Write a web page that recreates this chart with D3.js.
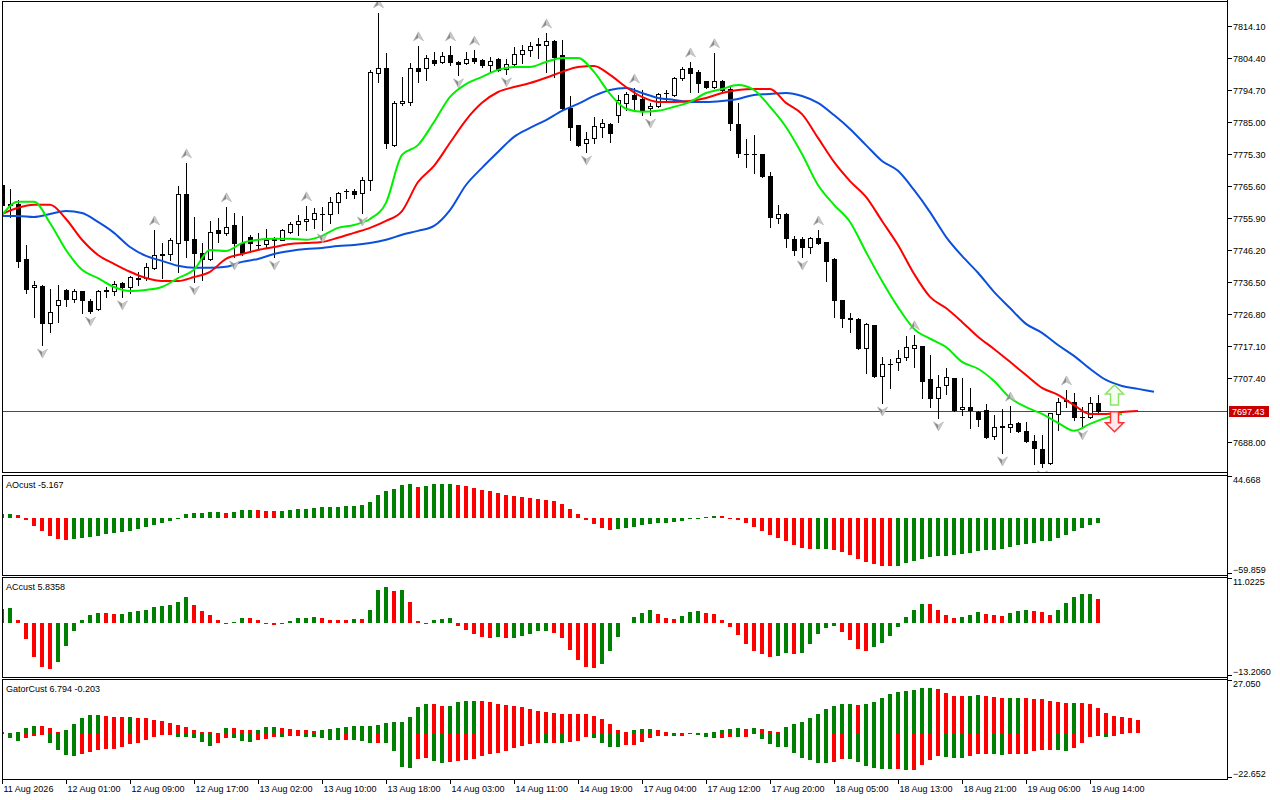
<!DOCTYPE html>
<html>
<head>
<meta charset="utf-8">
<script src="https://cdn.jsdelivr.net/npm/d3@7"></script>
<style>
  body { margin: 0; background: #fff; }
  svg { display: block; }
  text { font-family: "Liberation Sans", Arial, sans-serif; font-size: 9px; fill: #000; }
</style>
</head>
<body>
<svg id="chart" width="1280" height="800"></svg>
<script>
// ---- data (H1 bars, 11 Aug 17:00 .. 19 Aug 17:00) ----
const timeLabels = ["11 Aug 2026", "12 Aug 01:00", "12 Aug 09:00", "12 Aug 17:00", "13 Aug 02:00", "13 Aug 10:00",
  "13 Aug 18:00", "14 Aug 03:00", "14 Aug 11:00", "14 Aug 19:00", "17 Aug 04:00", "17 Aug 12:00",
  "17 Aug 20:00", "18 Aug 05:00", "18 Aug 13:00", "18 Aug 21:00", "19 Aug 06:00", "19 Aug 14:00"];
const labelEvery = 8;

const opens = [7765.9, 7760.2, 7760.2, 7743.5, 7735.0, 7735.3, 7724.1, 7729.6, 7734.1, 7731.4,
  7733.8, 7730.8, 7728.3, 7733.8, 7733.8, 7736.2, 7735.0, 7737.4, 7737.7, 7740.8,
  7744.7, 7745.0, 7748.3, 7763.2, 7749.6, 7745.3, 7743.5, 7752.3, 7751.4, 7753.8,
  7748.3, 7750.2, 7747.6, 7748.0, 7749.2, 7749.3, 7751.7, 7754.1, 7755.0, 7755.6,
  7757.0, 7757.1, 7760.8, 7764.0, 7764.1, 7763.5, 7767.4, 7799.9, 7801.4, 7778.0,
  7790.8, 7791.1, 7801.4, 7801.4, 7803.8, 7803.2, 7805.3, 7803.2, 7802.9, 7804.4,
  7803.8, 7802.3, 7804.1, 7801.1, 7802.6, 7805.6, 7806.8, 7808.7, 7808.4, 7809.6,
  7805.3, 7789.3, 7784.1, 7778.7, 7780.2, 7783.5, 7784.4, 7787.1, 7790.8, 7793.2,
  7792.0, 7789.3, 7789.9, 7793.7, 7793.2, 7798.4, 7801.4, 7800.2, 7797.4, 7795.6,
  7797.4, 7795.0, 7784.4, 7775.4, 7775.2, 7775.3, 7768.7, 7755.9, 7757.1, 7749.6,
  7749.6, 7747.1, 7749.9, 7748.6, 7743.5, 7731.1, 7725.6, 7725.3, 7716.5, 7723.5,
  7708.0, 7711.6, 7712.3, 7713.8, 7716.5, 7717.1, 7707.1, 7701.4, 7705.3, 7707.4,
  7698.0, 7698.6, 7697.1, 7697.7, 7689.8, 7692.5, 7692.6, 7693.8, 7691.4, 7688.3,
  7685.9, 7681.7, 7696.5, 7700.5, 7700.2, 7695.7, 7695.6, 7699.8];
const highs = [7766.5, 7764.7, 7761.4, 7747.7, 7736.8, 7735.6, 7734.4, 7735.6, 7734.4, 7734.4,
  7733.9, 7731.4, 7734.1, 7735.0, 7736.8, 7736.5, 7738.3, 7739.6, 7742.3, 7752.3,
  7748.3, 7749.9, 7765.6, 7772.6, 7756.2, 7748.3, 7755.0, 7755.9, 7759.3, 7757.4,
  7756.5, 7750.8, 7751.4, 7752.6, 7750.2, 7752.6, 7754.7, 7756.8, 7759.6, 7759.0,
  7759.3, 7762.3, 7763.8, 7764.7, 7764.7, 7768.4, 7800.8, 7818.1, 7805.9, 7791.4,
  7798.7, 7802.9, 7808.1, 7805.3, 7806.2, 7806.2, 7808.1, 7803.5, 7806.2, 7806.8,
  7804.1, 7804.7, 7804.4, 7804.1, 7807.8, 7808.4, 7809.3, 7810.5, 7812.0, 7809.9,
  7809.9, 7792.9, 7784.1, 7782.0, 7786.5, 7785.9, 7784.7, 7793.2, 7794.1, 7795.3,
  7794.7, 7790.8, 7793.8, 7794.7, 7798.6, 7801.7, 7803.2, 7800.8, 7797.4, 7806.0,
  7797.7, 7795.6, 7790.8, 7779.9, 7781.1, 7775.3, 7769.9, 7759.9, 7757.4, 7750.5,
  7750.2, 7750.2, 7752.3, 7748.6, 7743.8, 7731.1, 7727.1, 7725.6, 7724.1, 7723.5,
  7713.8, 7713.2, 7715.9, 7720.2, 7720.5, 7717.1, 7714.4, 7708.3, 7710.5, 7707.4,
  7707.4, 7704.4, 7697.4, 7699.5, 7696.2, 7698.0, 7698.9, 7694.1, 7694.1, 7690.2,
  7690.2, 7696.8, 7701.4, 7703.8, 7702.9, 7698.6, 7701.7, 7702.3];
const lows = [7759.3, 7756.2, 7741.1, 7733.2, 7725.9, 7717.4, 7721.4, 7724.4, 7729.3, 7730.5,
  7727.1, 7727.1, 7728.0, 7732.0, 7732.6, 7732.0, 7733.2, 7735.6, 7737.1, 7740.5,
  7737.7, 7743.2, 7739.6, 7744.1, 7736.5, 7737.1, 7743.2, 7748.6, 7750.8, 7744.1,
  7744.7, 7746.2, 7746.8, 7746.8, 7744.1, 7749.2, 7751.4, 7750.8, 7752.3, 7752.9,
  7752.3, 7754.4, 7757.4, 7762.0, 7762.0, 7757.4, 7764.4, 7797.1, 7777.1, 7777.7,
  7790.2, 7790.2, 7797.1, 7797.8, 7802.3, 7803.0, 7802.3, 7799.3, 7802.6, 7802.9,
  7801.7, 7800.5, 7800.5, 7799.6, 7802.3, 7802.9, 7805.0, 7804.4, 7800.2, 7798.7,
  7788.7, 7779.6, 7777.7, 7775.9, 7778.7, 7780.5, 7779.0, 7785.0, 7788.7, 7788.7,
  7787.1, 7787.1, 7789.6, 7791.1, 7793.0, 7797.8, 7794.1, 7794.1, 7795.3, 7795.3,
  7794.1, 7782.6, 7774.4, 7771.4, 7769.6, 7768.4, 7753.2, 7754.4, 7747.1, 7744.7,
  7744.1, 7745.3, 7748.0, 7736.8, 7725.9, 7722.9, 7721.4, 7716.2, 7708.9, 7707.7,
  7699.8, 7704.4, 7709.9, 7712.9, 7710.8, 7701.4, 7698.6, 7695.3, 7702.6, 7697.4,
  7696.2, 7692.3, 7692.9, 7689.2, 7688.9, 7684.7, 7691.1, 7691.1, 7688.0, 7681.4,
  7680.5, 7681.4, 7691.7, 7698.6, 7694.7, 7692.6, 7695.3, 7697.0];
const closes = [7759.9, 7759.9, 7742.9, 7734.4, 7735.6, 7724.1, 7727.4, 7731.1, 7731.4, 7733.8,
  7731.1, 7727.7, 7733.8, 7734.0, 7735.9, 7735.0, 7738.0, 7737.7, 7741.1, 7744.7,
  7745.0, 7749.3, 7763.2, 7749.3, 7745.3, 7743.5, 7751.7, 7751.4, 7753.2, 7748.3,
  7745.3, 7748.3, 7747.8, 7749.3, 7749.4, 7752.3, 7754.1, 7755.0, 7755.6, 7757.4,
  7757.2, 7760.8, 7763.5, 7764.2, 7763.2, 7767.4, 7800.2, 7801.4, 7778.7, 7790.8,
  7791.4, 7801.4, 7800.5, 7804.4, 7802.9, 7805.0, 7803.2, 7802.6, 7804.1, 7803.5,
  7802.3, 7803.5, 7800.8, 7802.6, 7805.6, 7806.8, 7808.1, 7808.4, 7809.6, 7804.7,
  7789.3, 7783.5, 7778.0, 7779.9, 7783.8, 7784.7, 7781.7, 7791.7, 7793.5, 7792.0,
  7788.7, 7789.9, 7793.5, 7793.9, 7798.4, 7801.1, 7799.9, 7796.8, 7795.6, 7797.4,
  7794.7, 7784.7, 7775.6, 7775.2, 7775.3, 7768.7, 7756.2, 7757.1, 7749.9, 7746.2,
  7747.1, 7749.9, 7748.3, 7742.9, 7731.1, 7725.6, 7725.3, 7716.5, 7723.8, 7708.0,
  7711.7, 7711.5, 7713.5, 7716.8, 7717.4, 7706.5, 7701.4, 7704.7, 7707.7, 7697.7,
  7698.6, 7697.7, 7695.0, 7689.5, 7692.6, 7692.7, 7693.5, 7691.4, 7688.3, 7686.2,
  7681.7, 7696.8, 7700.2, 7700.8, 7695.6, 7695.5, 7699.8, 7697.43];

// Alligator lines, one value every 2 bars (already shifted forward)
const lineStep = 2;
const jawValues = [7756.5, 7756.5, 7756.2, 7757.1, 7758.0, 7757.4, 7754.7, 7751.4, 7747.1, 7744.4,
  7742.9, 7741.4, 7740.8, 7740.8, 7741.1, 7742.6, 7743.5, 7745.0, 7745.9, 7746.5,
  7746.8, 7747.4, 7747.7, 7748.3, 7749.3, 7750.8, 7752.0, 7753.5, 7758.3, 7765.9,
  7771.1, 7775.9, 7780.5, 7783.2, 7785.6, 7788.4, 7790.5, 7792.9, 7794.7, 7795.3,
  7793.8, 7792.3, 7791.7, 7791.1, 7791.1, 7791.4, 7792.0, 7793.2, 7793.5, 7793.8,
  7792.9, 7790.8, 7787.1, 7782.9, 7778.0, 7773.2, 7770.2, 7764.4, 7757.7, 7750.2,
  7744.4, 7739.3, 7733.5, 7728.6, 7723.8, 7721.1, 7717.4, 7714.1, 7710.2, 7706.8,
  7705.0, 7704.1, 7703.2];
const teethValues = [7757.1, 7759.0, 7759.9, 7759.9, 7755.6, 7749.3, 7744.7, 7742.0, 7739.6, 7737.7,
  7736.8, 7736.8, 7738.0, 7739.6, 7743.5, 7745.0, 7746.2, 7747.1, 7748.0, 7748.3,
  7748.6, 7749.9, 7751.4, 7752.9, 7755.0, 7758.0, 7766.8, 7771.7, 7778.7, 7785.6,
  7790.8, 7794.1, 7795.6, 7796.8, 7798.4, 7800.2, 7801.7, 7802.0, 7799.3, 7795.6,
  7792.6, 7791.1, 7791.1, 7791.4, 7792.3, 7793.8, 7794.7, 7795.0, 7795.0, 7790.8,
  7787.4, 7780.2, 7772.9, 7767.1, 7762.3, 7755.0, 7747.7, 7739.0, 7732.0, 7728.6,
  7724.4, 7719.9, 7716.2, 7712.3, 7708.3, 7704.4, 7702.3, 7699.2, 7696.5, 7696.5,
  7697.1, 7697.4];
const lipsValues = [7756.8, 7760.8, 7760.8, 7754.4, 7746.2, 7740.2, 7737.7, 7735.0, 7733.8, 7734.1,
  7735.0, 7737.7, 7740.2, 7746.2, 7745.9, 7748.3, 7749.3, 7749.6, 7749.6, 7749.3,
  7750.5, 7752.9, 7753.8, 7755.6, 7760.5, 7775.0, 7778.0, 7785.0, 7792.6, 7796.5,
  7798.7, 7800.8, 7801.7, 7801.7, 7803.2, 7804.4, 7804.4, 7800.2, 7793.5, 7789.0,
  7788.1, 7788.4, 7789.6, 7791.1, 7793.8, 7795.0, 7796.2, 7794.7, 7789.6, 7783.5,
  7775.3, 7765.9, 7759.9, 7754.7, 7745.6, 7736.8, 7728.9, 7722.3, 7719.3, 7716.8,
  7712.3, 7710.2, 7706.5, 7701.4, 7698.6, 7696.5, 7693.8, 7691.4, 7693.5, 7695.3,
  7696.5];

const upFractalBars = [19, 23, 28, 38, 47, 52, 56, 59, 68, 79, 86, 89, 102, 114, 126, 133];
const downFractalBars = [5, 11, 15, 24, 29, 34, 40, 45, 57, 63, 73, 81, 100, 110, 117, 125, 130, 135];

const signalBar = 139;
const buySignalPrice = 7705.3;
const sellSignalPrice = 7691.1;

const priceTicks = [7814.10, 7804.40, 7794.70, 7785.00, 7775.30, 7765.60, 7755.90, 7746.20,
  7736.50, 7726.80, 7717.10, 7707.40, 7688.00];

const aoValues = [4.2, 4.3, 3.2, -2.1, -8.5, -13.9, -19.2, -22.4, -23.5, -22.4,
  -21.3, -20.3, -19.2, -17.1, -16.0, -14.9, -13.9, -12.1, -9.6, -7.5,
  -5.3, -3.2, -1.1, 4.3, 5.3, 5.5, 6.4, 6.5, 5.3, 6.4,
  8.5, 8.6, 8.4, 7.5, 7.4, 7.6, 8.5, 9.6, 9.7, 10.7,
  11.7, 11.8, 11.9, 12.8, 12.9, 13.9, 17.1, 24.5, 28.8, 30.9,
  35.2, 36.3, 33.1, 34.1, 36.3, 36.4, 36.5, 35.2, 34.1, 32.0,
  29.9, 28.8, 26.7, 24.5, 23.5, 22.4, 21.3, 20.3, 19.2, 18.1,
  14.9, 9.6, 4.3, -2.1, -6.4, -10.7, -12.8, -11.7, -10.7, -9.6,
  -7.5, -6.4, -5.3, -5.2, -4.3, -3.2, -1.1, -0.7, 1.1, 2.1,
  2.0, -1.1, -2.1, -5.3, -9.6, -13.9, -18.1, -21.3, -24.5, -28.8,
  -32.0, -33.1, -33.0, -32.9, -34.1, -36.3, -39.5, -43.7, -46.9, -49.1,
  -51.2, -51.3, -51.1, -48.0, -45.9, -43.7, -41.6, -40.5, -40.4, -39.5,
  -38.4, -37.3, -35.2, -34.1, -34.0, -33.1, -30.9, -28.8, -27.7, -26.7,
  -24.5, -24.3, -21.3, -18.1, -13.9, -10.7, -7.5, -5.167];
const aoRange = [-59.859, 44.668];

const acValues = [3.3, 3.5, 0.7, -4.0, -8.4, -10.9, -11.4, -9.7, -5.9, -2.2,
  0.7, 1.9, 2.4, 2.35, 2.1, 2.15, 2.6, 2.9, 3.1, 3.9,
  4.1, 4.4, 5.1, 6.3, 4.4, 2.9, 1.9, 0.7, -0.25, 0.15,
  1.2, 1.15, 0.7, -0.25, -0.7, -0.25, 0.4, 1.2, 1.25, 1.4,
  1.2, 0.7, 0.65, 0.6, 0.9, 0.85, 3.1, 8.1, 8.8, 7.8,
  8.1, 5.1, 0.4, -0.25, 0.65, 0.9, 1.15, -0.8, -1.8, -2.8,
  -3.5, -3.8, -3.5, -3.8, -3.75, -3.3, -2.8, -2.1, -2.05, -2.55,
  -3.8, -6.8, -9.2, -11.0, -11.2, -10.2, -7.0, -3.5, -0.1, 1.4,
  2.4, 3.1, 2.1, 1.15, 0.9, 1.65, 2.6, 2.9, 2.4, 2.1,
  0.65, -1.1, -3.0, -5.3, -7.0, -7.7, -8.5, -8.2, -7.5, -7.7,
  -7.5, -5.3, -2.8, -1.3, -0.8, -2.3, -4.3, -6.5, -7.1, -6.0,
  -5.0, -3.3, -1.1, 1.4, 3.1, 4.6, 4.55, 3.1, 1.9, 1.15,
  1.4, 1.9, 2.6, 2.1, 1.9, 1.65, 2.4, 2.9, 3.1, 2.9,
  2.6, 1.9, 3.1, 4.9, 6.3, 7.1, 7.15, 5.8358];
const acRange = [-13.2060, 11.0225];

const gatorUpper = [0.5, 0.0, 0.5, 2.7, 3.7, 3.65, 2.7, 0.5, 1.7, 4.7,
  7.8, 9.1, 9.15, 8.8, 8.1, 8.05, 8.15, 7.8, 7.6, 6.8,
  6.1, 5.4, 4.4, 3.4, 1.7, 0.6, 0.5, 0.1, 2.7, 2.65,
  1.5, 1.45, 1.55, 3.0, 3.05, 2.5, 2.0, 1.5, 1.45, 1.4,
  1.5, 2.2, 2.7, 3.2, 3.7, 3.75, 3.8, 4.2, 5.2, 5.6,
  5.65, 8.1, 13.2, 15.0, 14.95, 14.0, 14.05, 16.1, 16.15, 16.6,
  16.55, 16.1, 15.0, 14.5, 14.0, 13.5, 12.5, 11.5, 11.0, 10.5,
  10.0, 9.95, 9.9, 9.6, 8.6, 7.1, 4.6, 1.5, 0.5, 1.5,
  2.0, 2.05, 1.5, 0.5, 0.0, 0.0, 0.0, 0.0, 0.0, 0.5,
  1.5, 2.0, 2.5, 2.0, 2.55, 2.0, 1.0, 0.5, 3.0, 4.6,
  5.6, 7.6, 9.6, 12.2, 13.7, 14.7, 14.75, 14.2, 14.7, 15.7,
  17.7, 19.8, 20.8, 21.3, 21.8, 22.8, 22.85, 22.3, 20.3, 18.8,
  18.75, 18.8, 19.3, 18.8, 18.3, 17.7, 17.75, 17.8, 17.7, 17.65,
  17.2, 16.2, 15.7, 15.2, 15.25, 15.2, 14.7, 12.7, 10.1, 8.6,
  8.1, 7.6, 6.794];
const gatorLower = [-0.5, -2.4, -3.9, -2.4, -1.35, -1.0, -4.9, -8.5, -11.2, -11.5,
  -10.5, -9.6, -8.5, -7.9, -7.85, -6.9, -5.6, -4.9, -3.5, -1.9,
  -1.0, -0.95, -1.9, -1.95, -2.4, -4.4, -6.4, -4.9, -2.4, -2.45,
  -3.9, -4.4, -3.4, -2.9, -1.9, -1.95, -1.35, -1.3, -1.9, -1.95,
  -2.4, -3.4, -3.45, -3.4, -3.45, -3.9, -4.9, -4.85, -4.9, -8.8,
  -16.9, -17.4, -12.8, -12.75, -13.9, -14.9, -14.4, -13.9, -13.4, -12.8,
  -11.3, -10.3, -9.8, -8.8, -7.3, -6.3, -5.6, -5.0, -5.1, -5.0,
  -5.1, -4.6, -4.1, -1.9, -2.4, -4.9, -6.9, -6.95, -6.1, -5.7,
  -4.4, -2.4, -1.35, -1.3, -1.4, -1.3, -0.5, -0.85, -1.9, -2.4,
  -2.35, -1.9, -1.95, -1.9, -0.5, -2.9, -5.4, -6.9, -6.95, -10.0,
  -12.5, -13.5, -15.0, -15.05, -14.5, -13.0, -13.05, -14.5, -16.6, -17.7,
  -18.2, -18.25, -18.2, -18.8, -18.7, -16.2, -13.7, -11.7, -12.2, -12.7,
  -12.75, -11.7, -10.6, -10.55, -10.6, -11.2, -10.6, -10.55, -10.5, -9.1,
  -8.6, -8.55, -8.6, -9.1, -7.6, -5.1, -2.0, -1.5, -2.0, -1.5,
  -0.203];
const gatorRange = [-22.652, 27.050];

// ---- layout ----
const svg = d3.select("#chart");
const left = 2, right = 1227;
const UP = "#008000", DOWN = "#ff0000";

const x = d3.scaleLinear().domain([0, opens.length - 1]).range([2, 1098]);
const panels = {
  main:  { top: 1.5,  bottom: 472.5 },
  ao:    { top: 475.5, bottom: 575.5 },
  ac:    { top: 577.5, bottom: 677.5 },
  gator: { top: 679.5, bottom: 779.5 }
};
const yPrice = d3.scaleLinear().domain([7688.00, 7814.10]).range([442, 26]);
const yAO = d3.scaleLinear().domain(aoRange).range([574, 476]);
const yAC = d3.scaleLinear().domain(acRange).range([676, 578]);
const yGator = d3.scaleLinear().domain(gatorRange).range([778, 680]);

const defs = svg.append("defs");
Object.entries(panels).forEach(([name, p]) => {
  defs.append("clipPath").attr("id", "clip-" + name)
    .append("rect")
      .attr("x", left + 0.5).attr("y", p.top + 0.5)
      .attr("width", right - left - 0.5).attr("height", p.bottom - p.top - 1);
});

const px = v => Math.round(v) + 0.5;

// ---- main panel ----
const main = svg.append("g").attr("clip-path", "url(#clip-main)");
const bars = d3.range(opens.length);

// current price line sits behind the candles
const lastClose = closes[closes.length - 1];
const lastY = Math.round(yPrice(lastClose));
main.append("rect")
  .attr("x", left).attr("y", lastY)
  .attr("width", right - left).attr("height", 1)
  .attr("fill", "#ff0000")
  .attr("shape-rendering", "crispEdges");

main.selectAll(".wick")
  .data(bars)
  .enter()
  .append("line")
    .attr("class", "wick")
    .attr("x1", i => x(i) + 0.5).attr("x2", i => x(i) + 0.5)
    .attr("y1", i => Math.round(yPrice(highs[i])))
    .attr("y2", i => Math.round(yPrice(lows[i])) + 1)
    .attr("stroke", "#000").attr("stroke-width", 1);

bars.forEach(i => {
  const yTop = px(yPrice(Math.max(opens[i], closes[i])));
  const yBot = px(yPrice(Math.min(opens[i], closes[i])));
  const bull = closes[i] >= opens[i];
  if (yBot - yTop < 1) {
    main.append("line")
      .attr("x1", x(i) - 2).attr("x2", x(i) + 3)
      .attr("y1", yTop).attr("y2", yTop)
      .attr("stroke", "#000");
  } else {
    main.append("rect")
      .attr("x", x(i) - 1.5).attr("y", yTop)
      .attr("width", 4).attr("height", yBot - yTop)
      .attr("fill", bull ? "#fff" : "#000")
      .attr("stroke", "#000").attr("stroke-width", 1);
  }
});

// ---- alligator lines ----
const alligator = [
  { values: jawValues, colour: "#0a50dc" },
  { values: teethValues, colour: "#ff0000" },
  { values: lipsValues, colour: "#00f000" }
];
const lineGen = d3.line()
  .x((d, i) => x(i * lineStep))
  .y(d => yPrice(d))
  .curve(d3.curveMonotoneX);

alligator.forEach(s => {
  main.append("path")
    .attr("d", lineGen(s.values))
    .attr("fill", "none")
    .attr("stroke", s.colour)
    .attr("stroke-width", 2);
});

// ---- fractals ----
function fractal(cx, cy, dir) {
  // dir -1 = arrow pointing up (above a high), 1 = pointing down (below a low)
  const s = -dir;
  const t = [cx, cy - 5 * s], l = [cx - 5, cy + 4 * s], r = [cx + 5, cy + 4 * s], n = [cx, cy + 1 * s];
  main.append("path").attr("d", `M${t}L${l}L${n}Z`).attr("fill", "#8a8a8a");
  main.append("path").attr("d", `M${t}L${n}L${r}Z`).attr("fill", "#c9c9c9");
  main.append("path").attr("d", `M${t}L${l}L${n}L${r}Z`)
    .attr("fill", "none").attr("stroke", "#b0b0b0").attr("stroke-width", 0.6);
}
upFractalBars.forEach(i => fractal(x(i) + 0.5, yPrice(highs[i]) - 9, -1));
downFractalBars.forEach(i => fractal(x(i) + 0.5, yPrice(lows[i]) + 8, 1));

// ---- signal arrows ----
function arrow(cx, tipY, dir, stroke, fill) {
  const s = dir; // 1 = up (tip at top), -1 = down
  const pts = [[cx, tipY], [cx + 9, tipY + 9 * s], [cx + 4, tipY + 9 * s], [cx + 4, tipY + 20 * s],
               [cx - 4, tipY + 20 * s], [cx - 4, tipY + 9 * s], [cx - 9, tipY + 9 * s]];
  main.append("path")
    .attr("d", "M" + pts.map(p => p.join(",")).join("L") + "Z")
    .attr("fill", fill).attr("stroke", stroke).attr("stroke-width", 1.5);
}
arrow(x(signalBar) + 0.5, yPrice(buySignalPrice), 1, "#8ee26a", "#f4fff0");
arrow(x(signalBar) + 0.5, yPrice(sellSignalPrice), -1, "#ff3030", "#ffe8ee");

// ---- histogram panels ----
function histogram(name, values, y, colourOf) {
  const g = svg.append("g").attr("clip-path", `url(#clip-${name})`);
  const y0 = Math.round(y(0));
  g.selectAll("rect")
    .data(values)
    .enter()
    .append("rect")
      .attr("x", (d, i) => x(i) - 2)
      .attr("y", d => Math.min(y0, Math.round(y(d))))
      .attr("width", 4)
      .attr("height", d => Math.abs(Math.round(y(d)) - y0))
      .attr("fill", (d, i) => colourOf(d, i));
}
const risingColour = arr => (d, i) => (i === 0 || d > arr[i - 1]) ? UP : DOWN;
histogram("ao", aoValues, yAO, risingColour(aoValues));
histogram("ac", acValues, yAC, risingColour(acValues));
histogram("gator", gatorUpper, yGator, (d, i) => (i > 0 && d > gatorUpper[i - 1]) ? UP : DOWN);
histogram("gator", gatorLower, yGator,
  (d, i) => (i > 0 && Math.abs(d) > Math.abs(gatorLower[i - 1])) ? UP : DOWN);

// ---- frames ----
Object.values(panels).forEach(p => {
  svg.append("rect")
    .attr("x", left + 0.5).attr("y", p.top)
    .attr("width", right - left).attr("height", p.bottom - p.top)
    .attr("fill", "none").attr("stroke", "#000").attr("stroke-width", 1);
});
svg.append("line")
  .attr("x1", right + 0.5).attr("x2", right + 0.5).attr("y1", 0).attr("y2", 780)
  .attr("stroke", "#000");

// ---- price axis ----
const axisG = svg.append("g");
priceTicks.forEach(p => {
  const yy = px(yPrice(p));
  axisG.append("line").attr("x1", right + 1).attr("x2", right + 5)
    .attr("y1", yy).attr("y2", yy).attr("stroke", "#000");
  axisG.append("text").attr("x", right + 6).attr("y", yy).attr("dy", "0.35em")
    .text(d3.format(".2f")(p));
});
axisG.append("rect").attr("x", right + 2).attr("y", lastY - 5)
  .attr("width", 40).attr("height", 11).attr("fill", "#c80000");
axisG.append("text").attr("x", right + 5).attr("y", lastY + 0.5).attr("dy", "0.35em")
  .style("fill", "#fff").text(d3.format(".2f")(lastClose));

// indicator scale labels
[[yAO, aoRange, ".3f"], [yAC, acRange, ".4f"], [yGator, gatorRange, ".3f"]].forEach(([y, range, f]) => {
  const yTop = y.range()[1], yBot = y.range()[0];
  axisG.append("line").attr("x1", right + 1).attr("x2", right + 5)
    .attr("y1", yTop + 0.5).attr("y2", yTop + 0.5).attr("stroke", "#000");
  axisG.append("text").attr("x", right + 6).attr("y", yTop + 4).attr("dy", "0.35em")
    .text(d3.format(f)(range[1]));
  axisG.append("line").attr("x1", right + 1).attr("x2", right + 5)
    .attr("y1", yBot - 0.5).attr("y2", yBot - 0.5).attr("stroke", "#000");
  axisG.append("text").attr("x", right + 6).attr("y", yBot - 4).attr("dy", "0.35em")
    .text(d3.format(f)(range[0]));
});

// indicator names
svg.append("text").attr("x", 6).attr("y", 488)
  .text(`AOcust ${aoValues[aoValues.length - 1]}`);
svg.append("text").attr("x", 6).attr("y", 590)
  .text(`ACcust ${acValues[acValues.length - 1]}`);
svg.append("text").attr("x", 6).attr("y", 692)
  .text(`GatorCust ${gatorUpper[gatorUpper.length - 1]} ${gatorLower[gatorLower.length - 1]}`);

// ---- time axis ----
timeLabels.forEach((label, j) => {
  const tx = x(j * labelEvery) + 0.5;
  svg.append("line").attr("x1", tx).attr("x2", tx).attr("y1", 780).attr("y2", 784)
    .attr("stroke", "#000");
  svg.append("text").attr("x", tx + 1).attr("y", 792).text(label);
});
</script>
</body>
</html>
